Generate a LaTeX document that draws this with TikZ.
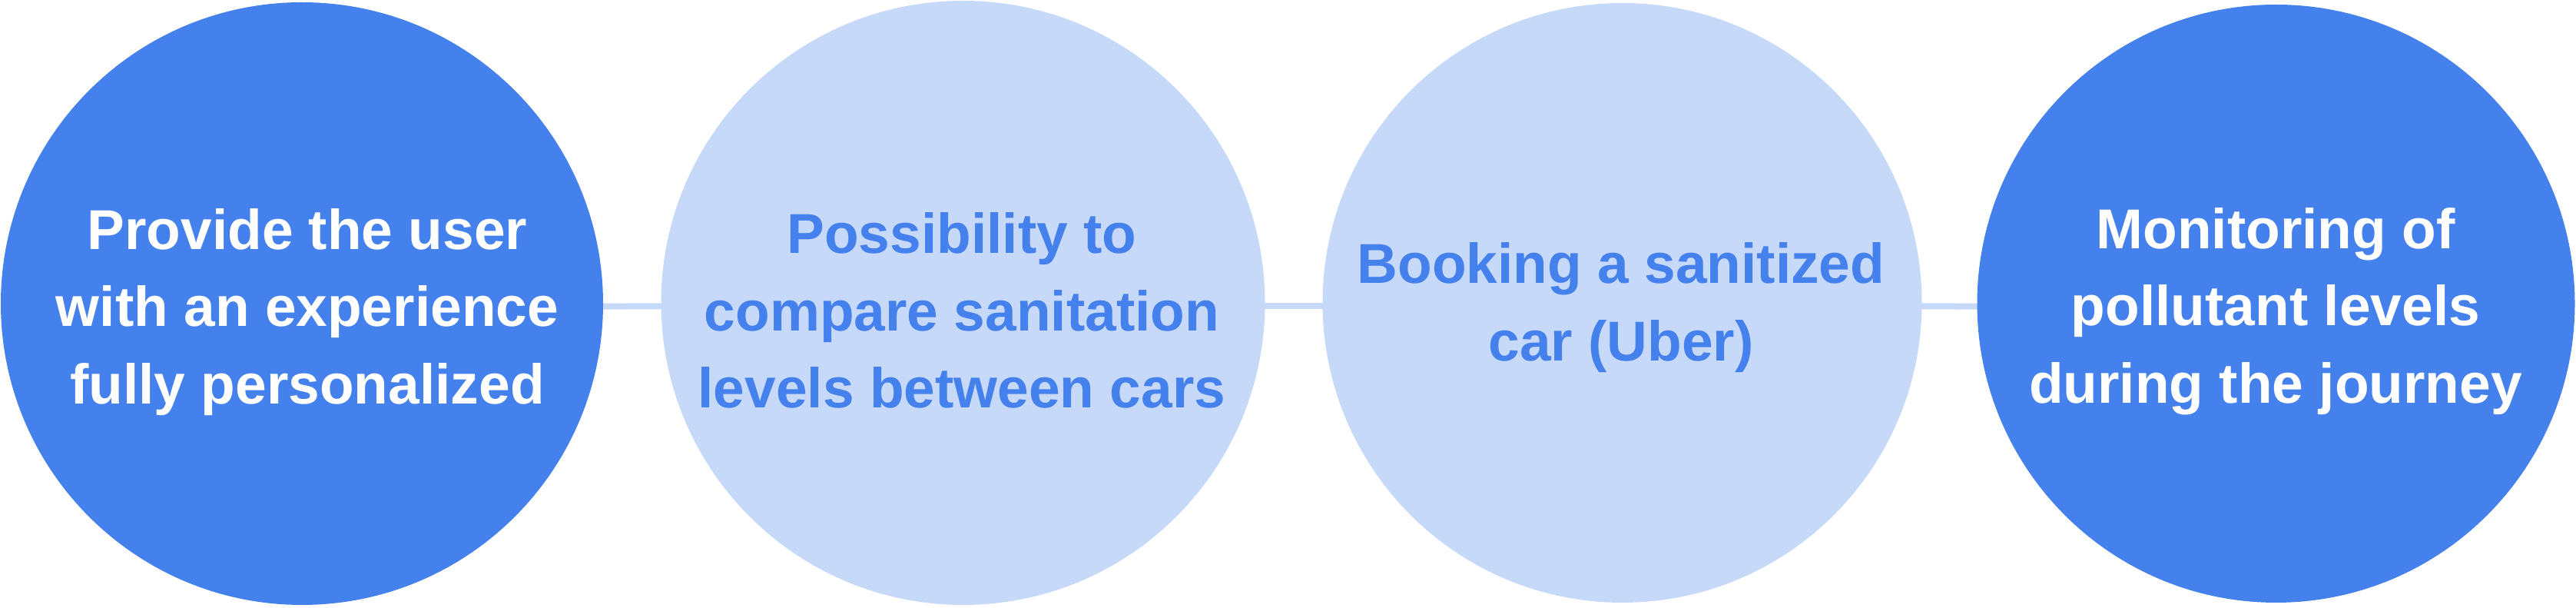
\documentclass[tikz,border=0pt]{standalone}
\usepackage{fontspec}
\setmainfont{Liberation Sans}
\usetikzlibrary{backgrounds}
\definecolor{darkblue}{HTML}{4481EC}
\definecolor{lightblue}{HTML}{C6D9F9}
\begin{document}
\begin{tikzpicture}[
  bubble/.style={circle, inner sep=0pt, minimum size=#1},
  darkbubble/.style={fill=darkblue},
  lightbubble/.style={fill=lightblue},
  btext/.style={align=center, font=\fontsize{20.8pt}{28.6pt}\selectfont\bfseries},
  link/.style={draw=lightblue, line width=0.08cm}
]
\useasboundingbox (0,0) rectangle (33.53,7.91);
\node[bubble=7.84cm, darkbubble] (c1) at (3.93,3.96) {};
\node[bubble=7.86cm, lightbubble] (c2) at (12.535,3.97) {};
\node[bubble=7.80cm, lightbubble] (c3) at (21.115,3.97) {};
\node[bubble=7.78cm, darkbubble] (c4) at (29.625,3.96) {};
\node[btext, text=white] (t1) at (4.00,3.85) {Provide the user\\with an experience\\fully personalized};
\node[btext, text=darkblue] (t2) at (12.52,3.87) {Possibility to\\compare sanitation\\levels between cars};
\node[btext, text=darkblue] (t3) at (21.10,3.91) {Booking a sanitized\\car (Uber)};
\node[btext, text=white] (t4) at (29.62,3.86) {Monitoring of\\pollutant levels\\during the journey};
\begin{scope}[on background layer]
\draw[link] ([yshift=-0.04cm]c1.center) -- ([yshift=-0.04cm]c2.center);
\draw[link] ([yshift=-0.04cm]c2.center) -- ([yshift=-0.04cm]c3.center);
\draw[link] ([yshift=-0.04cm]c3.center) -- ([yshift=-0.04cm]c4.center);
\end{scope}
\end{tikzpicture}
\end{document}
